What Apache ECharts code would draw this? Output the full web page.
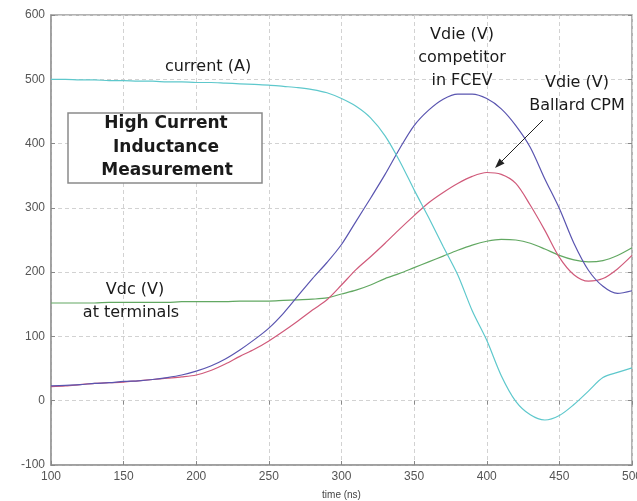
<!DOCTYPE html>
<html>
<head>
<meta charset="utf-8">
<script src="https://cdn.jsdelivr.net/npm/echarts@6/dist/echarts.min.js"></script>
<style>html,body{margin:0;padding:0;background:#fff}#c{width:637px;height:501px}</style>
</head>
<body>
<div id="c"></div>
<script>
const times = [100,110,120,130,140,150,160,170,180,190,200,210,220,230,240,250,260,270,280,290,300,310,320,330,340,350,360,370,380,390,400,410,420,430,440,450,460,470,480,490,500];
const currentA = [500,500,499,499,498,498,497,497,496,496,495,495,494,493,492,491,489,487,484,479,470,458,440,412,373,328,285,240,196,140,94,39,-1,-22,-30,-23,-6,15,36,44,51];
const vdieCompetitor = [23,24,25,27,28,30,31,33,36,40,46,54,65,79,95,113,136,163,190,215,243,279,315,352,392,428,452,469,477,477,470,454,428,394,345,299,245,203,178,167,171];
const vdieBallard = [22,23,25,27,28,29,31,33,35,37,40,47,57,69,80,93,108,124,141,157,180,204,224,245,267,288,308,324,338,349,355,352,338,304,265,223,196,186,190,205,226];
const vdcTerminals = [152,152,152,152,153,153,153,153,153,154,154,154,154,155,155,155,156,157,158,160,166,172,180,190,198,207,216,225,234,242,248,251,250,245,236,226,219,216,218,226,238];
const xTicks = {min:100, max:500, interval:50};
const yTicks = {min:-100, max:600, interval:100};

const pairs = arr => times.map((t,i)=>[t,arr[i]]);
const chart = echarts.init(document.getElementById('c'), null, {renderer:'canvas'});
const axisCol = '#9a9a9a';
const labelStyle = {color:'#555', fontSize:12, fontFamily:'Liberation Sans, Arial, sans-serif'};
const grid = {type:[4,3], color:'#d2d2d2', width:1};
function mkSeries(name, data, color){
  return {name, type:'line', data:pairs(data), showSymbol:false, smooth:0.3, lineStyle:{color, width:1.2}, itemStyle:{color}, z:3};
}
const txt = (x,y,s,opt={}) => ({type:'text', x, y, z:20, style:Object.assign({text:s, fill:'#1a1a1a', font:'16px "DejaVu Sans"', textAlign:'center', textVerticalAlign:'middle'}, opt)});
const boldF = 'bold 17px "DejaVu Sans"';
const option = {
  animation:false,
  backgroundColor:'#fff',
  grid:{left:51, right:5, top:15, bottom:36, show:true, borderColor:axisCol, borderWidth:1.5, backgroundColor:'transparent', containLabel:false, outerBoundsMode:'none'},
  xAxis:[
    {type:'value', min:xTicks.min, max:xTicks.max, interval:xTicks.interval,
     axisLine:{show:true, onZero:false, lineStyle:{color:axisCol, width:1.5}},
     axisTick:{show:true, inside:true, length:4, lineStyle:{color:'#888'}},
     axisLabel:Object.assign({margin:6}, labelStyle),
     splitLine:{show:true, lineStyle:grid},
     name:'time (ns)', nameLocation:'middle', nameGap:25,
     nameTextStyle:{color:'#444', fontSize:10, fontFamily:'Liberation Sans, Arial, sans-serif'}},
    {type:'value', position:'top', min:xTicks.min, max:xTicks.max, interval:xTicks.interval,
     axisLine:{show:false}, axisTick:{show:true, inside:true, length:4, lineStyle:{color:'#888'}},
     axisLabel:{show:false}, splitLine:{show:false}}
  ],
  yAxis:[
    {type:'value', min:yTicks.min, max:yTicks.max, interval:yTicks.interval,
     axisLine:{show:true, onZero:false, lineStyle:{color:axisCol, width:1.5}},
     axisTick:{show:true, inside:true, length:4, lineStyle:{color:'#888'}},
     axisLabel:Object.assign({margin:6}, labelStyle),
     splitLine:{show:true, lineStyle:grid}},
    {type:'value', position:'right', min:yTicks.min, max:yTicks.max, interval:yTicks.interval,
     axisLine:{show:false}, axisTick:{show:true, inside:true, length:4, lineStyle:{color:'#888'}},
     axisLabel:{show:false}, splitLine:{show:false}}
  ],
  series:[
    mkSeries('Vdc (V) at terminals', vdcTerminals, '#62a862'),
    mkSeries('Vdie (V) Ballard CPM', vdieBallard, '#d05a7a'),
    mkSeries('Vdie (V) competitor in FCEV', vdieCompetitor, '#5a55b0'),
    mkSeries('current (A)', currentA, '#5ec8cc')
  ],
  graphic:[
    {type:'rect', z:15, shape:{x:68, y:113, width:194, height:70}, style:{fill:'#fff', stroke:'#8a8a8a', lineWidth:1.5}},
    txt(166,124,'High Current',{font:boldF}),
    txt(166,148,'Inductance',{font:boldF}),
    txt(167,171,'Measurement',{font:boldF}),
    txt(208,67,'current (A)'),
    txt(462,35,'Vdie (V)'),
    txt(462,58,'competitor'),
    txt(462,81,'in FCEV'),
    txt(577,83,'Vdie (V)'),
    txt(577,106,'Ballard CPM'),
    txt(135,290,'Vdc (V)'),
    txt(131,313,'at terminals'),
    {type:'line', z:20, shape:{x1:543, y1:120, x2:501, y2:162}, style:{stroke:'#222', lineWidth:1}},
    {type:'polygon', z:20, shape:{points:[[495,168],[504.5,163.5],[499.5,158.5]]}, style:{fill:'#222'}}
  ]
};
chart.setOption(option);
</script>
</body>
</html>
